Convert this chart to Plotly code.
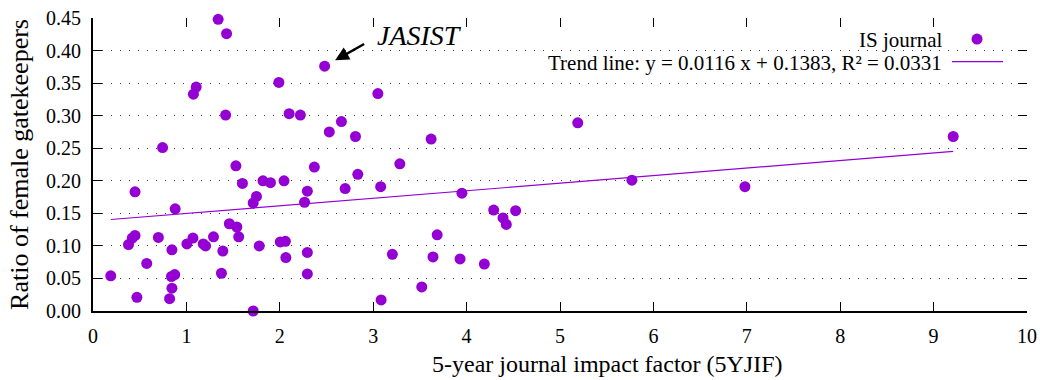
import plotly.graph_objects as go

# 5-year journal impact factor (x) and ratio of female gatekeepers (y)
jif = [0.19, 0.38, 0.42, 0.45, 0.45, 0.47, 0.575, 0.70, 0.745, 0.82,
       0.84, 0.845, 0.845, 0.875, 0.88, 1.005, 1.07, 1.075, 1.105, 1.18,
       1.205, 1.29, 1.34, 1.375, 1.39, 1.42, 1.43, 1.46, 1.53, 1.54,
       1.56, 1.60, 1.715, 1.715, 1.75, 1.78, 1.82, 1.90, 1.99, 2.005,
       2.045, 2.06, 2.065, 2.10, 2.22, 2.265, 2.295, 2.295, 2.295, 2.37,
       2.48, 2.53, 2.66, 2.70, 2.81, 2.835, 3.05, 3.08, 3.085, 3.205,
       3.285, 3.52, 3.62, 3.64, 3.685, 3.95, 3.93, 4.19, 4.29, 4.39,
       4.425, 4.525, 5.19, 5.77, 6.98, 9.21]
ratio = [0.054, 0.102, 0.112, 0.116, 0.183, 0.021, 0.073, 0.113, 0.251, 0.019,
         0.053, 0.094, 0.035, 0.056, 0.157, 0.103, 0.112, 0.333, 0.344, 0.103,
         0.100, 0.114, 0.448, 0.058, 0.092, 0.301, 0.426, 0.134, 0.223, 0.129,
         0.114, 0.196, 0.166, 0.000, 0.176, 0.100, 0.200, 0.197, 0.351, 0.106,
         0.200, 0.107, 0.082, 0.303, 0.301, 0.167, 0.184, 0.090, 0.057, 0.221,
         0.376, 0.275, 0.291, 0.188, 0.268, 0.210, 0.334, 0.191, 0.017, 0.087,
         0.226, 0.037, 0.264, 0.083, 0.117, 0.181, 0.080, 0.072, 0.155, 0.143,
         0.133, 0.154, 0.289, 0.201, 0.191, 0.268]

# Trend line coefficients (from the chart legend)
slope = 0.0116
intercept = 0.1383
trend_x = [min(jif), max(jif)]
trend_y = [slope * v + intercept for v in trend_x]

# JASIST highlighted point
jasist_x = 2.48
jasist_y = 0.376

x_ticks = list(range(0, 11))
y_ticks = [0.00, 0.05, 0.10, 0.15, 0.20, 0.25, 0.30, 0.35, 0.40, 0.45]

PURPLE = "#9400D3"
FONT = "Liberation Serif, serif"

fig = go.Figure()
fig.add_trace(go.Scatter(
    x=jif, y=ratio, mode="markers", name="IS journal",
    marker=dict(color=PURPLE, size=11, line=dict(width=0)),
    cliponaxis=False, showlegend=False))
fig.add_trace(go.Scatter(
    x=trend_x, y=trend_y, mode="lines",
    name="Trend line: y = 0.0116 x + 0.1383, R² = 0.0331",
    line=dict(color=PURPLE, width=1.2), showlegend=False))

axis_common = dict(ticks="inside", ticklen=9, tickwidth=1.2, tickcolor="black",
                   zeroline=False, automargin=False)

fig.update_layout(
    width=1040, height=380,
    margin=dict(l=93, r=13, t=18, b=69),
    plot_bgcolor="white", paper_bgcolor="white",
    font=dict(family=FONT, color="black", size=20),
    xaxis=dict(range=[0, 10], tickvals=x_ticks, showgrid=False,
               showline=True, linecolor="black", linewidth=2,
               tickfont=dict(size=20, family=FONT), ticklabelstandoff=6,
               **axis_common),
    yaxis=dict(range=[0, 0.45], tickvals=y_ticks, tickformat=".2f",
               showgrid=True, gridcolor="#333", griddash="1px,8px", gridwidth=1,
               showline=True, linecolor="black", linewidth=2,
               title=dict(text="Ratio of female gatekeepers",
                          font=dict(size=26, family=FONT), standoff=10),
               tickfont=dict(size=20, family=FONT), ticklabelstandoff=6,
               **axis_common),
    xaxis2=dict(range=[0, 10], tickvals=x_ticks, overlaying="x", side="top",
                anchor="y", showticklabels=False, showgrid=False,
                showline=False, **axis_common),
    yaxis2=dict(range=[0, 0.45], tickvals=y_ticks, overlaying="y", side="right",
                anchor="x", showticklabels=False, showgrid=False,
                showline=False, **axis_common),
)

# invisible trace so the mirrored tick axes are rendered
fig.add_trace(go.Scatter(x=trend_x, y=trend_y, xaxis="x2", yaxis="y2",
                         mode="lines", line=dict(width=0), opacity=0,
                         hoverinfo="skip", showlegend=False))

# x-axis title (placed as in the original, slightly right of centre)
fig.add_annotation(x=0.551, y=-0.181, xref="paper", yref="paper",
                   text="5-year journal impact factor (5YJIF)", showarrow=False,
                   xanchor="center", yanchor="middle", borderpad=0,
                   font=dict(size=24, family=FONT, color="black"))

# JASIST label and arrow
fig.add_annotation(x=jasist_x, y=jasist_y, xref="x", yref="y",
                   text="", showarrow=True, arrowhead=2, arrowsize=1.1,
                   arrowwidth=2.5, arrowcolor="black",
                   ax=41, ay=-23, standoff=12)
fig.add_annotation(x=3.02, y=0.423, xref="x", yref="y", text="<i>JASIST</i>",
                   showarrow=False, xanchor="left", yanchor="middle",
                   font=dict(size=28, family=FONT, color="black"))

# gnuplot-style key (text right-aligned, sample to the right)
fig.add_annotation(x=0.912, y=0.925, xref="paper", yref="paper",
                   text="IS journal", showarrow=False, xanchor="right",
                   yanchor="middle", font=dict(size=21, family=FONT))
fig.add_annotation(x=0.911, y=0.848, xref="paper", yref="paper",
                   text="Trend line: y = 0.0116 x + 0.1383, R² = 0.0331",
                   showarrow=False, xanchor="right", yanchor="middle",
                   font=dict(size=21, family=FONT))
fig.add_shape(type="circle", xref="paper", yref="paper",
              x0=0.9465 - 0.0059, x1=0.9465 + 0.0059,
              y0=0.928 - 0.0188, y1=0.928 + 0.0188,
              fillcolor=PURPLE, line=dict(width=0))
fig.add_shape(type="line", xref="paper", yref="paper",
              x0=0.9197, x1=0.9743, y0=0.851, y1=0.851,
              line=dict(color=PURPLE, width=1.2))

fig.write_html("out.html", config={"displayModeBar": False},
               post_script="document.body.style.margin='0';document.body.style.padding='0';")
